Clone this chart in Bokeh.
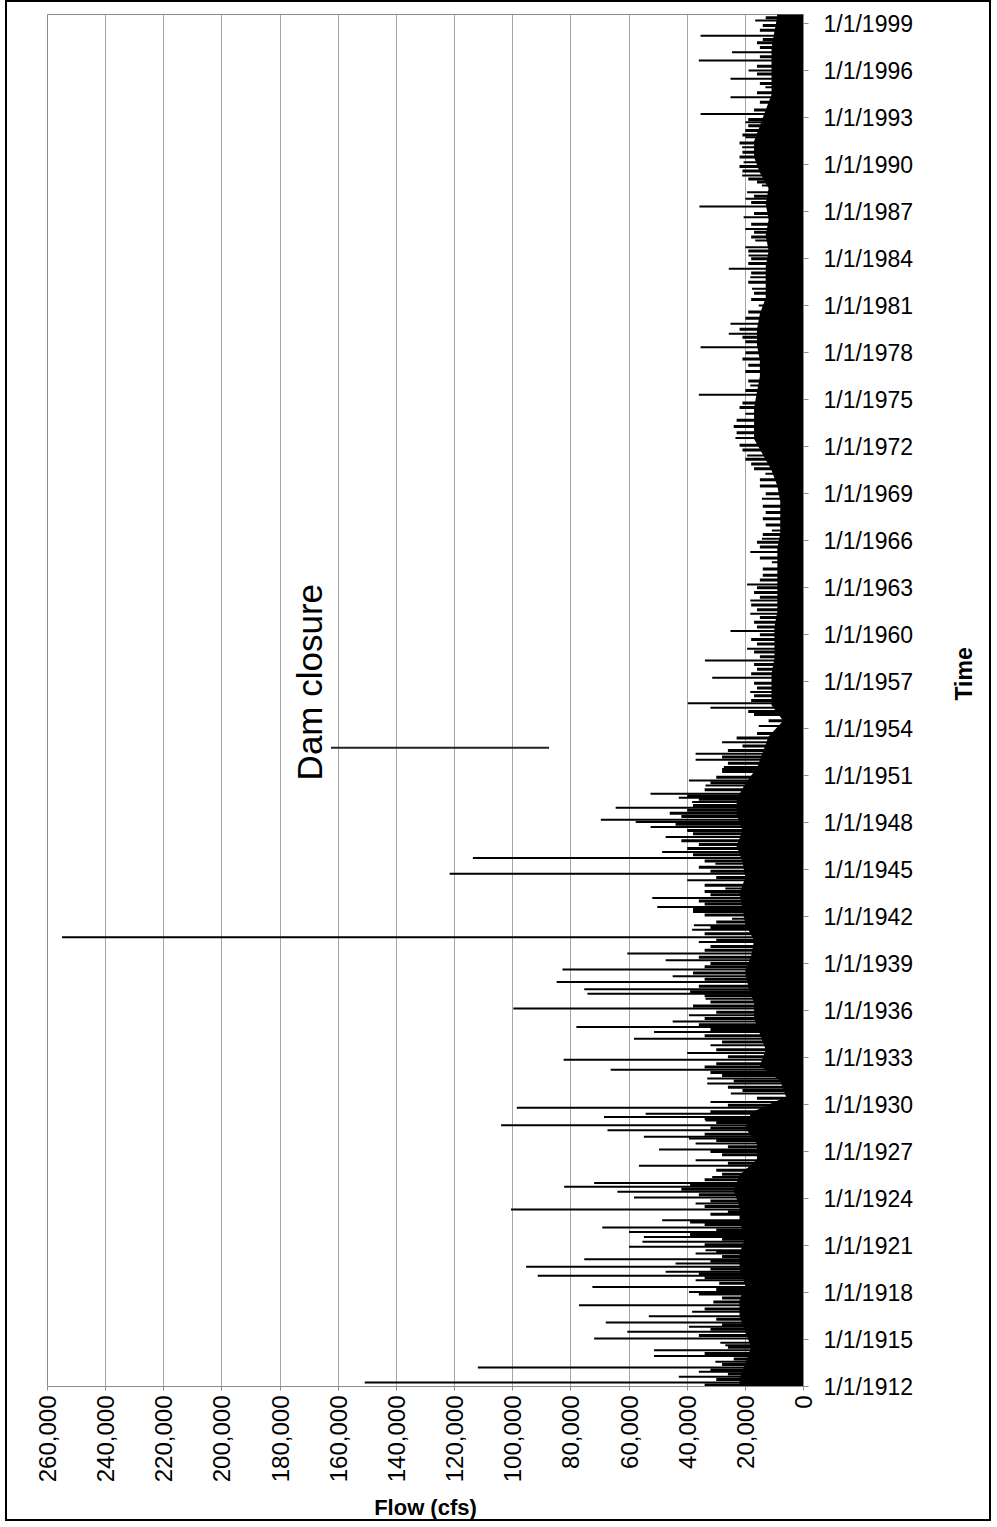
import math
from bokeh.plotting import figure
from bokeh.models import Range1d, FixedTicker, Label, NumeralTickFormatter, ColumnDataSource
from bokeh.embed import file_html
from bokeh.resources import INLINE

# ---- data ----
# main flow peaks: time (decimal year) and flow (cfs)
peak_years = [
    1912.26, 1912.62, 1912.94, 1913.21, 1913.58, 1913.94, 1914.32, 1914.64, 1914.79, 1915.07,
    1915.49, 1915.81, 1916.09, 1916.49, 1916.77, 1917.19, 1918.04, 1918.36, 1918.79, 1919.07,
    1919.32, 1919.64, 1919.85, 1920.13, 1920.49, 1920.70, 1920.92, 1921.24, 1921.55, 1921.87,
    1922.15, 1922.62, 1922.83, 1923.30, 1923.68, 1924.07, 1924.43, 1924.75, 1925.00, 1925.38,
    1926.09, 1926.45, 1927.13, 1927.51, 1927.83, 1927.94, 1928.36, 1928.68, 1928.98, 1929.21,
    1929.42, 1929.79, 1930.17, 1930.70, 1931.34, 1931.66, 1932.23, 1932.87, 1933.30, 1933.79,
    1934.21, 1934.64, 1934.96, 1935.30, 1935.70, 1936.13, 1936.76, 1937.08, 1937.36, 1937.83,
    1938.20, 1938.62, 1939.21, 1939.64, 1940.38, 1940.68, 1941.17, 1941.45, 1941.87, 1942.30,
    1942.62, 1943.19, 1943.79, 1944.32, 1944.74, 1945.38, 1945.74, 1946.13, 1947.08, 1947.72,
    1948.04, 1948.19, 1948.95, 1949.32, 1949.59, 1949.85, 1950.38, 1950.70, 1951.23, 1951.55,
    1952.02, 1952.40, 1953.14, 1954.17, 1955.34, 1955.63, 1956.34, 1957.25, 1958.36, 1959.10,
    1960.23, 1961.34, 1962.19, 1963.21, 1964.63, 1965.28, 1966.13, 1966.66, 1968.68, 1970.28,
    1971.45, 1972.56, 1974.11, 1975.32, 1975.92, 1976.45, 1978.36, 1979.21, 1979.85, 1981.02,
    1982.09, 1982.83, 1983.36, 1984.21, 1984.74, 1985.17, 1985.91, 1986.66, 1987.34, 1987.83,
    1988.25, 1988.68, 1989.32, 1990.17, 1991.13, 1991.77, 1992.72, 1993.25, 1993.79, 1994.32,
    1994.96, 1995.49, 1996.02, 1996.66, 1997.19, 1998.25, 1999.21, 1999.53,
]
peak_flows = [
    150900, 42900, 36000, 112000, 30300, 51400, 51400, 26900, 28600, 72000,
    60600, 39400, 68000, 53200, 38300, 77200, 39400, 72600, 37100, 91400,
    47400, 95400, 44000, 75400, 37100, 33700, 60000, 55400, 54900, 60000,
    69200, 48600, 21000, 100600, 37100, 58300, 64000, 82300, 72000, 31400,
    56600, 37100, 49700, 37100, 39400, 54900, 67400, 104000, 33700, 68600,
    54300, 98600, 32000, 25000, 33100, 33100, 66300, 82500, 40000, 32000,
    58300, 51400, 78100, 45000, 39400, 99800, 33700, 74300, 75400, 84900,
    45000, 82900, 47400, 60600, 36000, 255000, 38300, 37700, 24600, 38000,
    50300, 52000, 26900, 40000, 121700, 30300, 113700, 48600, 47400, 52600,
    57700, 69700, 64600, 38300, 42900, 52600, 33700, 39400, 28000, 27400,
    37100, 37100, 28000, 15400, 32000, 39800, 18300, 31400, 33900, 19400,
    25100, 18300, 18300, 19400, 10900, 18300, 14300, 10900, 14300, 13100,
    19400, 23400, 20000, 36000, 18300, 12000, 35400, 25700, 25100, 15400,
    17700, 18300, 25700, 18900, 20000, 16600, 20000, 20600, 35800, 20000,
    19400, 14300, 21100, 20600, 21100, 20000, 20000, 35400, 10900, 25100,
    13100, 25100, 18900, 36000, 24600, 35400, 16600, 9100,
]

# smaller freshets between the main peaks (time, thousand cfs)
minor_years = [
    1912.10, 1912.45, 1912.80, 1913.05, 1913.40, 1913.75, 1914.10, 1914.50, 1915.25, 1915.65,
    1915.95, 1916.30, 1916.95, 1917.40, 1917.65, 1917.90, 1918.20, 1918.60, 1918.95, 1919.20,
    1919.50, 1920.00, 1920.30, 1920.60, 1921.05, 1921.40, 1921.70, 1922.00, 1922.35, 1922.50,
    1923.00, 1923.15, 1923.50, 1923.85, 1924.25, 1924.60, 1924.90, 1925.20, 1925.55, 1925.80,
    1926.25, 1926.80, 1927.00, 1927.30, 1927.70, 1928.10, 1928.50, 1928.85, 1929.10, 1929.55,
    1929.95, 1930.40, 1930.90, 1931.10, 1931.50, 1931.85, 1932.05, 1932.40, 1932.60, 1933.05,
    1933.50, 1934.00, 1934.40, 1934.80, 1935.10, 1935.50, 1935.90, 1936.30, 1936.55, 1936.95,
    1937.20, 1937.55, 1938.00, 1938.40, 1938.80, 1939.00, 1939.40, 1939.85, 1940.10, 1940.50,
    1940.90, 1941.30, 1941.65, 1942.10, 1942.45, 1942.80, 1943.00, 1943.40, 1943.60, 1944.00,
    1944.50, 1944.90, 1945.15, 1945.55, 1945.95, 1946.35, 1946.60, 1946.85, 1947.30, 1947.50,
    1947.90, 1948.40, 1948.60, 1948.80, 1949.10, 1949.50, 1949.70, 1950.10, 1950.55, 1950.90,
    1951.40, 1951.80, 1952.20, 1952.60, 1952.90, 1953.40, 1953.70, 1954.50, 1954.90, 1955.10,
    1955.80, 1956.10, 1956.60, 1956.90, 1957.50, 1957.80, 1958.10, 1958.60, 1958.90, 1959.40,
    1959.70, 1960.00, 1960.50, 1960.80, 1961.10, 1961.60, 1961.90, 1962.40, 1962.70, 1963.00,
    1963.50, 1963.80, 1964.20, 1964.90, 1965.60, 1965.90, 1966.40, 1967.00, 1967.40, 1967.80,
    1968.20, 1969.00, 1969.50, 1969.90, 1970.60, 1970.90, 1971.20, 1971.80, 1972.10, 1972.90,
    1973.30, 1973.70, 1974.50, 1974.80, 1975.60, 1976.20, 1976.80, 1977.20, 1977.60, 1978.00,
    1978.70, 1979.00, 1979.50, 1980.20, 1980.60, 1981.40, 1981.80, 1982.50, 1983.10, 1983.70,
    1984.00, 1984.50, 1985.40, 1985.70, 1986.20, 1986.90, 1987.60, 1988.00, 1988.90, 1989.10,
    1989.60, 1989.90, 1990.50, 1990.80, 1991.40, 1991.90, 1992.20, 1992.50, 1992.90, 1993.50,
    1994.00, 1994.60, 1995.20, 1995.80, 1996.30, 1996.90, 1997.50, 1997.80, 1998.00, 1998.60,
    1998.90, 1999.40,
]
minor_kcfs = [
    34, 30, 26, 32, 28, 24, 34, 26, 36, 32,
    28, 30, 34, 31, 28, 36, 30, 29, 34, 36,
    32, 32, 28, 30, 34, 28, 39, 30, 34, 39,
    32, 26, 34, 32, 36, 42, 39, 34, 28, 30,
    26, 28, 32, 26, 30, 34, 32, 30, 34, 32,
    26, 16, 21, 26, 24, 28, 32, 34, 30, 26,
    30, 28, 34, 32, 36, 34, 30, 38, 32, 34,
    39, 36, 34, 38, 34, 32, 36, 34, 32, 30,
    34, 32, 30, 34, 38, 34, 36, 32, 34, 34,
    30, 32, 36, 34, 38, 40, 36, 42, 38, 40,
    44, 42, 46, 40, 38, 36, 40, 34, 32, 30,
    28, 26, 28, 26, 21, 23, 16, 12, 17, 19,
    18, 17, 16, 17, 18, 16, 17, 15, 17, 16,
    18, 15, 16, 17, 15, 16, 18, 15, 17, 16,
    15, 14, 14, 15, 15, 16, 14, 13, 14, 13,
    14, 13, 15, 15, 17, 18, 20, 21, 22, 23,
    24, 23, 22, 21, 20, 19, 20, 19, 21, 20,
    20, 21, 22, 20, 19, 18, 17, 19, 18, 19,
    18, 19, 18, 17, 18, 17, 18, 17, 16, 19,
    21, 22, 22, 21, 22, 21, 20, 19, 19, 17,
    15, 16, 15, 16, 16, 15, 15, 16, 14, 15,
    14, 13,
]

# dense daily-flow band for each year, thousand cfs
band_years = list(range(1912, 2000))
band_kcfs = [
    22, 20, 18, 20, 22, 22, 20, 22, 22, 20,
    22, 22, 24, 22, 16, 16, 20, 18, 6, 8,
    15, 13, 15, 17, 17, 19, 20, 18, 17, 20,
    21, 22, 20, 21, 23, 21, 23, 23, 20, 16,
    14, 12, 7, 11, 11, 11, 10, 10, 10, 9,
    9, 9, 9, 9, 8, 8, 8, 9, 11, 14,
    17, 17, 17, 16, 15, 15, 16, 16, 15, 13,
    13, 13, 12, 13, 12, 13, 12, 15, 17, 17,
    15, 13, 11, 11, 11, 11, 10, 9,
]

tick_years = list(range(1912, 2000, 3))
tick_labels = ["1/1/%d" % y for y in tick_years]
flow_ticks = list(range(0, 260001, 20000))

dam_year = 1952.78
dam_flow_from = 87500
dam_flow_to = 162500
dam_text = "Dam closure"

# ---- figure ----
FONT = "Liberation Sans"
t_start, t_end = 1912.0, 1999.6

p = figure(width=986, height=1521, output_backend="svg", toolbar_location=None,
           x_range=Range1d(260000, 0), y_range=Range1d(t_start, t_end),
           x_axis_location="below", y_axis_location="right",
           min_border_left=40, min_border_top=12, min_border_right=188, min_border_bottom=137,
           background_fill_color="white", border_fill_color="white")
p.styles = {"border": "2px solid black", "margin-left": "5px"}

p.outline_line_color = "#8c8c8c"
p.outline_line_width = 1

# grid
p.ygrid.visible = False
p.xgrid.ticker = FixedTicker(ticks=flow_ticks)
p.xgrid.grid_line_color = "#a6a6a6"
p.xgrid.grid_line_width = 1

# flow axis (bottom)
xa = p.xaxis[0]
xa.ticker = FixedTicker(ticks=flow_ticks)
xa.formatter = NumeralTickFormatter(format="0,0")
xa.major_label_orientation = math.pi / 2
xa.major_label_text_font = FONT
xa.major_label_text_font_size = "24px"
xa.major_label_text_color = "black"
xa.major_label_standoff = 5
xa.axis_line_color = "#8c8c8c"
xa.major_tick_line_color = "#8c8c8c"
xa.major_tick_in = 0
xa.major_tick_out = 4
xa.minor_tick_line_color = None
xa.axis_label = "Flow (cfs)"
xa.axis_label_text_font = FONT
xa.axis_label_text_font_style = "bold"
xa.axis_label_text_font_size = "22px"
xa.axis_label_text_color = "black"
xa.axis_label_standoff = 10

# time axis (right)
ya = p.yaxis[0]
ya.ticker = FixedTicker(ticks=tick_years)
ya.major_label_overrides = {y: l for y, l in zip(tick_years, tick_labels)}
ya.major_label_text_font = FONT
ya.major_label_text_font_size = "23px"
ya.major_label_text_color = "black"
ya.major_label_standoff = 15
ya.axis_line_color = "#8c8c8c"
ya.major_tick_line_color = "#8c8c8c"
ya.major_tick_in = 0
ya.major_tick_out = 5
ya.minor_tick_line_color = None
ya.axis_label = "Time"
ya.axis_label_orientation = math.pi / 2
ya.axis_label_text_font = FONT
ya.axis_label_text_font_style = "bold"
ya.axis_label_text_font_size = "23px"
ya.axis_label_text_color = "black"
ya.axis_label_standoff = 48

# dense band of daily flows
by = [t_start] + [y + 0.5 for y in band_years] + [t_end]
bx = [band_kcfs[0] * 1000] + [v * 1000 for v in band_kcfs] + [band_kcfs[-1] * 1000]
p.harea(y=by, x1=[0] * len(by), x2=bx, fill_color="black", fill_alpha=1.0)

# smaller freshets
msrc = ColumnDataSource(dict(t=minor_years, q=[v * 1000 for v in minor_kcfs],
                             z=[0] * len(minor_years)))
p.segment(x0="z", y0="t", x1="q", y1="t", source=msrc, line_color="black", line_width=3)

# flow peaks
src = ColumnDataSource(dict(t=peak_years, q=peak_flows, z=[0] * len(peak_years)))
p.segment(x0="z", y0="t", x1="q", y1="t", source=src, line_color="black", line_width=2)

# dam closure marker
p.segment(x0=[dam_flow_from], y0=[dam_year], x1=[dam_flow_to], y1=[dam_year],
          line_color="#222222", line_width=2)
p.add_layout(Label(x=169800, y=1950.70, text=dam_text, angle=math.pi / 2,
                   text_align="left", text_baseline="middle",
                   text_font=FONT, text_font_size="35px", text_color="black"))

open("out.html", "w").write(file_html(p, INLINE))
